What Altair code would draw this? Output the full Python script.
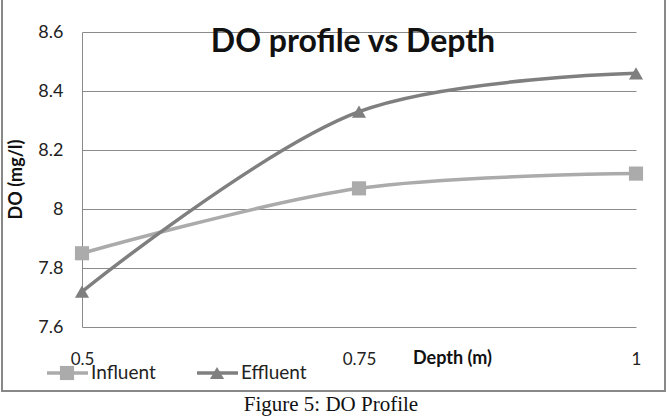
import altair as alt
import pandas as pd

# Dissolved oxygen readings at each sampling depth
depth = [0.5, 0.75, 1.0]
influent = [7.85, 8.07, 8.12]
effluent = [7.72, 8.33, 8.46]
series_names = ["Influent", "Effluent"]
y_ticks = [7.6, 7.8, 8.0, 8.2, 8.4, 8.6]
x_ticks = [0.5, 0.75, 1.0]

df = pd.DataFrame({"depth": depth * 2,
                   "do": influent + effluent,
                   "series": ["Influent"] * 3 + ["Effluent"] * 3})

COLORS = {"Influent": "#ababab", "Effluent": "#7f7f7f"}
SHAPES = {"Influent": "square", "Effluent": "triangle-up"}
GRID = "#8a8a8a"
FONT = "Lato"

color_scale = alt.Scale(domain=series_names, range=[COLORS[s] for s in series_names])
shape_scale = alt.Scale(domain=series_names, range=[SHAPES[s] for s in series_names])

x_enc = alt.X("depth:Q", scale=alt.Scale(domain=[0.5, 1.0], nice=False, zero=False),
              axis=alt.Axis(values=x_ticks, format=".2~f", grid=False, domain=False, ticks=False,
                            labelFlush=False, labelPadding=24, labelFontSize=17,
                            labelColor="#222222", labelFont=FONT, title="Depth (m)",
                            titleFont=FONT, titleFontSize=18, titleFontWeight="bold",
                            titleColor="#111111", titleX=370, titleY=31, titleAlign="center",
                            titleBaseline="middle"))
y_enc = alt.Y("do:Q", scale=alt.Scale(domain=[7.6, 8.6], nice=False, zero=False),
              axis=alt.Axis(values=y_ticks, format=".1~f", grid=True, gridColor=GRID,
                            gridWidth=1, domain=True, domainColor=GRID, domainWidth=1,
                            ticks=False, labelPadding=19, labelFontSize=18,
                            labelColor="#222222", labelFont=FONT, title="DO (mg/l)",
                            titleFont=FONT, titleFontSize=18, titleFontWeight="bold",
                            titleColor="#111111", titleAngle=270, titleX=-66, titleY=147,
                            titleAlign="center", titleBaseline="middle"))

lines = alt.Chart(df).mark_line(interpolate="catmull-rom", strokeWidth=3.5).encode(
    x=x_enc, y=y_enc,
    color=alt.Color("series:N", scale=color_scale, legend=None),
    detail="series:N")

points = alt.Chart(df).mark_point(filled=True, opacity=1, size=200).encode(
    x="depth:Q", y="do:Q",
    color=alt.Color("series:N", scale=color_scale, legend=None),
    shape=alt.Shape("series:N", scale=shape_scale, legend=None))

layers = [lines, points]

# Hand-drawn legend below the x axis: line, marker, label
legend_x = {"Influent": -35, "Effluent": 115}
legend_y = 341
for name in series_names:
    x0 = legend_x[name]
    one = alt.Chart(pd.DataFrame({"label": [name]}))
    layers.append(one.mark_rule(strokeWidth=3.5, color=COLORS[name]).encode(
        x=alt.value(x0), x2=alt.value(x0 + 41), y=alt.value(legend_y)))
    layers.append(one.mark_point(filled=True, opacity=1, size=200, shape=SHAPES[name],
                                 color=COLORS[name]).encode(
        x=alt.value(x0 + 20), y=alt.value(legend_y)))
    layers.append(one.mark_text(align="left", baseline="middle", font=FONT, fontSize=19,
                                color="#222222").encode(
        x=alt.value(x0 + 44), y=alt.value(legend_y), text="label:N"))

# Chart title drawn inside the plot area
title = alt.Chart(pd.DataFrame({"t": ["DO profile vs Depth"]})).mark_text(
    align="center", baseline="alphabetic", font=FONT, fontSize=32, fontWeight="bold",
    color="#111111").encode(x=alt.value(271), y=alt.value(20), text="t:N")

# Outer frame around the chart
frame = alt.Chart(pd.DataFrame({"f": [1]})).mark_rect(
    fill=None, stroke="#888888", strokeWidth=2).encode(
    x=alt.value(-80), x2=alt.value(583), y=alt.value(-40), y2=alt.value(359))

caption = alt.Chart(pd.DataFrame({"c": ["Figure 5: DO Profile"]})).mark_text(
    align="center", baseline="alphabetic", font="Liberation Serif", fontSize=21,
    color="#111111").encode(x=alt.value(249), y=alt.value(379), text="c:N")

chart = alt.layer(frame, *layers, title, caption).properties(
    width=554, height=295,
    autosize=alt.AutoSizeParams(type="none"),
    padding={"left": 82, "top": 32, "right": 33, "bottom": 91},
    background="white",
).configure_view(stroke=None)

chart.save("out.html", embed_options={"renderer": "svg", "actions": False})
